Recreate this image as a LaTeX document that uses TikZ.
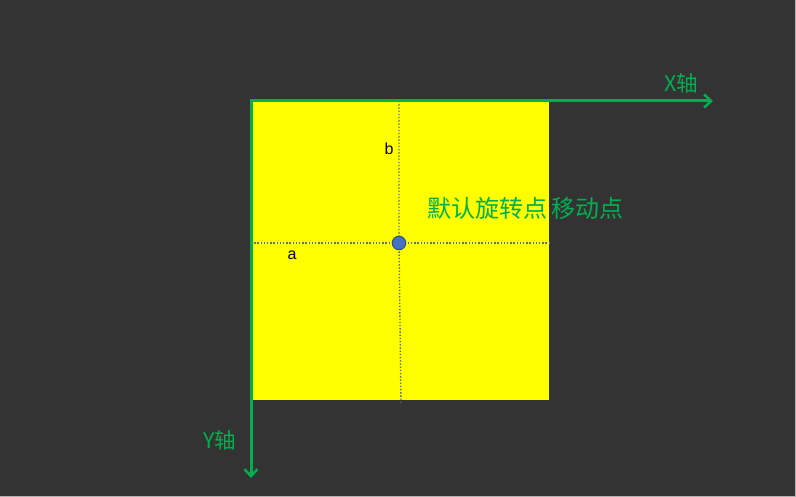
\documentclass[tikz,border=0pt]{standalone}
\usepackage{fontspec}
\newfontfamily\cjk{Noto Sans CJK SC}
\setmainfont{Liberation Sans}
\usetikzlibrary{arrows.meta}
\definecolor{bg}{HTML}{333333}
\definecolor{axg}{HTML}{00B050}
\definecolor{dotc}{HTML}{5A7090}
\definecolor{sq}{HTML}{FFFF00}
\tikzset{
  axis/.style={draw=axg,line width=3pt,-{Straight Barb[length=7pt,width=13pt,line width=2.5pt]}},
  guide/.style={draw=dotc,line width=1.4pt,dash pattern=on 1.4pt off 1.8pt},
  axlabel/.style={text=axg,font=\cjk\fontsize{21.5}{24}\selectfont,inner sep=0pt},
  letter/.style={text=black,font=\fontsize{16}{18}\selectfont,inner sep=0pt}
}
\begin{document}
\begin{tikzpicture}[x=1pt,y=-1pt]
\fill[bg] (0,0) rectangle (796,497);
\useasboundingbox (0,0) rectangle (796,497);
\draw[gray!60,line width=1pt] (0,496) -- (796,496) (795,0) -- (795,497);
\fill[sq] (251,101) rectangle (549,400);
\coordinate (o) at (251,101);
\coordinate (xe) at (713,101);
\coordinate (ye) at (251,478);
\coordinate (vt) at (399,101);
\coordinate (vb) at (401,403);
\coordinate (hl) at (251,243);
\coordinate (hr) at (551,243);
\draw[guide] (vt) -- (399,243) -- (vb);
\draw[guide] (hl) -- (hr);
\draw[axis] (250,101) -- (xe);
\draw[axis] (o) -- (ye);
\node[circle,fill={rgb,255:red,70;green,114;blue,196},draw={rgb,255:red,50;green,80;blue,130},line width=1pt,minimum size=13.5pt,inner sep=0pt] (pt) at (399,243) {};
\node[axlabel] (xl) at (681.5,83) {X轴};
\node[axlabel] (yl) at (219.5,440) {Y轴};
\node[letter] (b) at (389,149) {b};
\node[letter] (a) at (292,255) {a};
\node[text=axg,font=\cjk\fontsize{24}{28}\selectfont,inner sep=0pt,anchor=west] (lbl) at (427,208) {默认旋转点\,移动点};
\end{tikzpicture}
\end{document}
